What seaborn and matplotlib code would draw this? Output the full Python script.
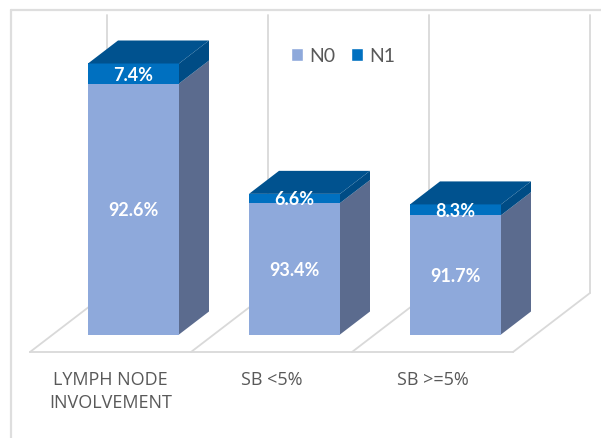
import matplotlib
matplotlib.use("Agg")
import matplotlib.pyplot as plt
from matplotlib.lines import Line2D
from matplotlib.patches import Polygon, Patch
import pandas as pd
import seaborn as sns

categories = ["LYMPH NODE\nINVOLVEMENT", "SB <5%", "SB >=5%"]
n0_values = [92.6, 48.5, 44.0]
n1_values = [7.4, 3.4, 4.0]
series_names = ["N0", "N1"]

W, H = 601, 438
PX_PER_CAT = 161.0
PX_PER_UNIT = 2.71
C_N0, C_N1 = "#8EA9DB", "#0070C0"
C_N0_SIDE, C_N1_SIDE, C_TOP = "#5B6B8E", "#004C85", "#00528F"
C_GRID, C_TEXT = "#D9D9D9", "#595959"

sns.set_theme(style="white")
plt.rcParams["font.family"] = ["Lato", "DejaVu Sans"]

fig = plt.figure(figsize=(W / 100, H / 100), dpi=100)
L, R, T, B = 30.0, 513.0, 15.0, 352.0
ax = fig.add_axes([L / W, 1 - B / H, (R - L) / W, (B - T) / H])

df = pd.DataFrame({"category": categories, "n0": n0_values, "n1": n1_values})
df["total"] = df.n0 + df.n1
bar_width = 91 / PX_PER_CAT

sns.barplot(data=df, x="category", y="total", color=C_N1, saturation=1,
            width=bar_width, ax=ax, zorder=3, linewidth=0, order=categories)
sns.barplot(data=df, x="category", y="n0", color=C_N0, saturation=1,
            width=bar_width, ax=ax, zorder=4, linewidth=0, order=categories)

x0 = -(133.5 - L) / PX_PER_CAT
ax.set_xlim(x0, x0 + 3)
ax.set_ylim(-(B - 334.5) / PX_PER_UNIT, (334.5 - T) / PX_PER_UNIT)

DX = 30 / PX_PER_CAT
DY = 23 / PX_PER_UNIT
WALL_DX = 77 / PX_PER_CAT
WALL_DY = 59 / PX_PER_UNIT
ymin, ymax = ax.get_ylim()

# floor diagonals and back-wall verticals
for k in range(4):
    xs = x0 + k
    ax.add_line(Line2D([xs, xs + WALL_DX], [ymin, ymin + WALL_DY], color=C_GRID,
                       lw=1.3, zorder=1, clip_on=False))
    ax.add_line(Line2D([xs + WALL_DX] * 2, [ymin + WALL_DY, ymax], color=C_GRID,
                       lw=1.3, zorder=1, clip_on=False))

# 3D faces
for i, (a, b) in enumerate(zip(n0_values, n1_values)):
    xr = i + bar_width / 2
    xl = i - bar_width / 2
    t = a + b
    ax.add_patch(Polygon([(xr, 0), (xr + DX, DY), (xr + DX, a + DY), (xr, a)],
                         fc=C_N0_SIDE, ec="none", zorder=3, clip_on=False))
    ax.add_patch(Polygon([(xr, a), (xr + DX, a + DY), (xr + DX, t + DY), (xr, t)],
                         fc=C_N1_SIDE, ec="none", zorder=3, clip_on=False))
    ax.add_patch(Polygon([(xl, t), (xr, t), (xr + DX, t + DY), (xl + DX, t + DY)],
                         fc=C_TOP, ec="none", zorder=3, clip_on=False))
    ax.text(i, a / 2, f"{a / t * 100:.1f}%", color="white", fontsize=13,
            fontweight="bold", ha="center", va="center_baseline", zorder=6)
    ax.text(i, a + b / 2, f"{b / t * 100:.1f}%", color="white", fontsize=13,
            fontweight="bold", ha="center", va="center_baseline", zorder=6)

# axis
ax.set_xlabel("")
ax.set_ylabel("")
ax.set_yticks([])
ax.set_xticks([i - 23 / PX_PER_CAT for i in range(3)], categories)
ax.tick_params(axis="x", length=0, pad=14, labelsize=13, labelcolor=C_TEXT)
for lab in ax.get_xticklabels():
    lab.set_linespacing(1.3)
    lab.set_family(["Open Sans", "DejaVu Sans"])
for s in ["top", "left", "right"]:
    ax.spines[s].set_visible(False)
ax.spines["bottom"].set_color(C_GRID)
ax.spines["bottom"].set_linewidth(1.3)
ax.patch.set_alpha(0)

# legend
ax.legend(handles=[Patch(fc=C_N0, label=series_names[0]), Patch(fc=C_N1, label=series_names[1])],
          loc="center", bbox_to_anchor=(343 / W, 1 - 56 / H), bbox_transform=fig.transFigure,
          ncol=2, frameon=False, fontsize=14, labelcolor=C_TEXT, handlelength=0.62,
          handleheight=0.62, handletextpad=0.33, columnspacing=0.8, borderpad=0, borderaxespad=0)

# outer frame (top and left edges visible in the reference crop)
fig.add_artist(Line2D([11 / W, 11 / W], [0, 1 - 10 / H], color="#DEDEDE", lw=1.6))
fig.add_artist(Line2D([11 / W, 1], [1 - 10 / H] * 2, color="#DEDEDE", lw=1.6))

fig.savefig("out.png", dpi=100)
